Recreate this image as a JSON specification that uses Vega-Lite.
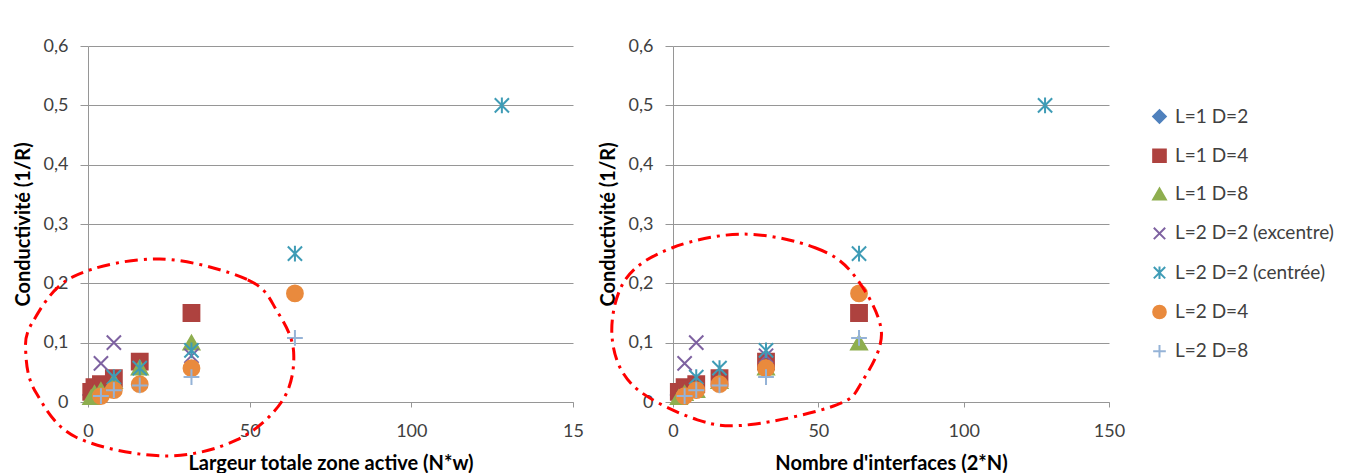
{
  "$schema": "https://vega.github.io/schema/vega-lite/v6.json",
  "background": "white",
  "padding": {"left": 13, "top": 37, "right": 5, "bottom": 0},
  "bounds": "flush",
  "spacing": 100,
  "datasets": {
    "pts": [
      {"s": "L=1 D=2", "nw": 1, "n2": 2, "y": 0.012},
      {"s": "L=1 D=2", "nw": 2, "n2": 4, "y": 0.018},
      {"s": "L=1 D=4", "nw": 1, "n2": 2, "y": 0.017},
      {"s": "L=1 D=4", "nw": 2, "n2": 4, "y": 0.025},
      {"s": "L=1 D=4", "nw": 4, "n2": 8, "y": 0.03},
      {"s": "L=1 D=4", "nw": 8, "n2": 16, "y": 0.04},
      {"s": "L=1 D=4", "nw": 16, "n2": 32, "y": 0.068},
      {"s": "L=1 D=4", "nw": 32, "n2": 64, "y": 0.15},
      {"s": "L=1 D=8", "nw": 1, "n2": 2, "y": 0.008},
      {"s": "L=1 D=8", "nw": 2, "n2": 4, "y": 0.015},
      {"s": "L=1 D=8", "nw": 4, "n2": 8, "y": 0.02},
      {"s": "L=1 D=8", "nw": 8, "n2": 16, "y": 0.035},
      {"s": "L=1 D=8", "nw": 16, "n2": 32, "y": 0.058},
      {"s": "L=1 D=8", "nw": 32, "n2": 64, "y": 0.1},
      {"s": "L=2 D=2 (excentre)", "nw": 4, "n2": 4, "y": 0.065},
      {"s": "L=2 D=2 (excentre)", "nw": 8, "n2": 8, "y": 0.1},
      {"s": "L=2 D=2 (excentre)", "nw": 32, "n2": 32, "y": 0.078},
      {"s": "L=2 D=2 (centrée)", "nw": 8, "n2": 8, "y": 0.042},
      {"s": "L=2 D=2 (centrée)", "nw": 16, "n2": 16, "y": 0.057},
      {"s": "L=2 D=2 (centrée)", "nw": 32, "n2": 32, "y": 0.087},
      {"s": "L=2 D=2 (centrée)", "nw": 64, "n2": 64, "y": 0.25},
      {"s": "L=2 D=2 (centrée)", "nw": 128, "n2": 128, "y": 0.5},
      {"s": "L=2 D=4", "nw": 4, "n2": 4, "y": 0.01},
      {"s": "L=2 D=4", "nw": 8, "n2": 8, "y": 0.02},
      {"s": "L=2 D=4", "nw": 16, "n2": 16, "y": 0.03},
      {"s": "L=2 D=4", "nw": 32, "n2": 32, "y": 0.057},
      {"s": "L=2 D=4", "nw": 64, "n2": 64, "y": 0.183},
      {"s": "L=2 D=8", "nw": 4, "n2": 4, "y": 0.01},
      {"s": "L=2 D=8", "nw": 8, "n2": 8, "y": 0.02},
      {"s": "L=2 D=8", "nw": 16, "n2": 16, "y": 0.028},
      {"s": "L=2 D=8", "nw": 32, "n2": 32, "y": 0.042},
      {"s": "L=2 D=8", "nw": 64, "n2": 64, "y": 0.108}
    ],
    "ell": [
      {"p": "L", "i": 1, "x": 22.2, "y": 0.241},
      {"p": "L", "i": 2, "x": 49.4, "y": 0.206},
      {"p": "L", "i": 3, "x": 58.6, "y": 0.152},
      {"p": "L", "i": 4, "x": 63.6, "y": 0.084},
      {"p": "L", "i": 5, "x": 60.2, "y": 0.003},
      {"p": "L", "i": 6, "x": 46.0, "y": -0.064},
      {"p": "L", "i": 7, "x": 23.4, "y": -0.091},
      {"p": "L", "i": 8, "x": -3.8, "y": -0.059},
      {"p": "L", "i": 9, "x": -16.0, "y": 0.015},
      {"p": "L", "i": 10, "x": -19.2, "y": 0.079},
      {"p": "L", "i": 11, "x": -17.3, "y": 0.133},
      {"p": "L", "i": 12, "x": -4.7, "y": 0.211},
      {"p": "R", "i": 1, "x": 24.4, "y": 0.283},
      {"p": "R", "i": 2, "x": 48.9, "y": 0.26},
      {"p": "R", "i": 3, "x": 62.4, "y": 0.213},
      {"p": "R", "i": 4, "x": 71.7, "y": 0.118},
      {"p": "R", "i": 5, "x": 65.0, "y": 0.034},
      {"p": "R", "i": 6, "x": 56.3, "y": -0.005},
      {"p": "R", "i": 7, "x": 26.8, "y": -0.038},
      {"p": "R", "i": 8, "x": 8.4, "y": -0.03},
      {"p": "R", "i": 9, "x": -13.8, "y": 0.028},
      {"p": "R", "i": 10, "x": -21.0, "y": 0.112},
      {"p": "R", "i": 11, "x": -16.3, "y": 0.207},
      {"p": "R", "i": 12, "x": -0.2, "y": 0.26}
    ]
  },
  "config": {
    "font": "Lato",
    "view": {"stroke": null},
    "axis": {
      "labelFlush": false,
      "labelOverlap": false,
      "labelFont": "Lato",
      "labelFontSize": 18,
      "labelColor": "#404040",
      "titleFont": "Lato",
      "titleFontSize": 20,
      "titleFontWeight": "bold",
      "titleColor": "#000000",
      "domainColor": "#969696",
      "tickColor": "#969696",
      "gridColor": "#969696",
      "gridWidth": 1
    },
    "axisY": {"tickSize": 8, "labelPadding": 12, "titlePadding": 10, "grid": true},
    "axisX": {"tickSize": 5, "labelPadding": 15, "titlePadding": 13, "grid": false},
    "legend": {
      "orient": "none",
      "legendX": 1062,
      "legendY": 61,
      "padding": 0,
      "labelFont": "Lato",
      "labelFontSize": 19,
      "labelColor": "#404040",
      "symbolSize": 160,
      "symbolStrokeWidth": 2,
      "rowPadding": 18.3,
      "labelOffset": 6
    }
  },
  "hconcat": [
    {
      "width": 485,
      "height": 356,
      "layer": [
        {
          "data": {"name": "pts"},
          "mark": {"type": "point", "filled": true, "size": 250, "strokeWidth": 2, "opacity": 1},
          "encoding": {
            "x": {"field": "nw", "type": "quantitative", "title": "Largeur totale zone active (N*w)",
                  "scale": {"domain": [0, 150], "nice": false},
                  "axis": {"values": [0, 50, 100, 150], "labelExpr": "datum.value == 150 ? '15' : format(datum.value, 'd')"}},
            "y": {"field": "y", "type": "quantitative", "title": "Conductivité (1/R)",
                  "scale": {"domain": [0, 0.6], "nice": false},
                  "axis": {"values": [0, 0.1, 0.2, 0.3, 0.4, 0.5, 0.6], "labelExpr": "datum.value == 0 ? '0' : replace(format(datum.value, '.1f'), '.', ',')"}},
            "fill": {"field": "s", "type": "nominal", "title": null,
                     "scale": {"domain": ["L=1 D=2", "L=1 D=4", "L=1 D=8", "L=2 D=2 (excentre)", "L=2 D=2 (centrée)", "L=2 D=4", "L=2 D=8"],
                               "range": ["#4F81BD", "#AE423F", "#8EAE4F", "#7E62A1", "#3F9CB6", "#E98A3D", "#95B3D7"]}},
            "stroke": {"field": "s", "type": "nominal", "title": null,
                     "scale": {"domain": ["L=1 D=2", "L=1 D=4", "L=1 D=8", "L=2 D=2 (excentre)", "L=2 D=2 (centrée)", "L=2 D=4", "L=2 D=8"],
                               "range": ["#4F81BD", "#AE423F", "#8EAE4F", "#7E62A1", "#3F9CB6", "#E98A3D", "#95B3D7"]}},
            "shape": {"field": "s", "type": "nominal", "title": null,
                      "scale": {"domain": ["L=1 D=2", "L=1 D=4", "L=1 D=8", "L=2 D=2 (excentre)", "L=2 D=2 (centrée)", "L=2 D=4", "L=2 D=8"],
                                "range": ["diamond", "square", "triangle-up", "M-0.9,-0.9L0.9,0.9M-0.9,0.9L0.9,-0.9", "M-0.9,-0.9L0.9,0.9M-0.9,0.9L0.9,-0.9M0,-1L0,1", "circle", "M-1,0L1,0M0,-1L0,1"]}}
          }
        },
        {
          "data": {"name": "ell"},
          "transform": [{"filter": "datum.p == 'L'"}],
          "mark": {"type": "line", "interpolate": "cardinal-closed", "clip": false, "color": "#FF0000", "strokeWidth": 3, "strokeDash": [13, 6, 3, 6]},
          "encoding": {
            "x": {"field": "x", "type": "quantitative", "title": "Largeur totale zone active (N*w)", "scale": {"domain": [0, 150], "nice": false}},
            "y": {"field": "y", "type": "quantitative", "title": "Conductivité (1/R)", "scale": {"domain": [0, 0.6], "nice": false}},
            "order": {"field": "i", "type": "quantitative"}
          }
        }
      ]
    },
    {
      "width": 436,
      "height": 356,
      "layer": [
        {
          "data": {"name": "pts"},
          "mark": {"type": "point", "filled": true, "size": 250, "strokeWidth": 2, "opacity": 1},
          "encoding": {
            "x": {"field": "n2", "type": "quantitative", "title": "Nombre d'interfaces (2*N)",
                  "scale": {"domain": [0, 150], "nice": false},
                  "axis": {"values": [0, 50, 100, 150], "format": "d"}},
            "y": {"field": "y", "type": "quantitative", "title": "Conductivité (1/R)",
                  "scale": {"domain": [0, 0.6], "nice": false},
                  "axis": {"values": [0, 0.1, 0.2, 0.3, 0.4, 0.5, 0.6], "labelExpr": "datum.value == 0 ? '0' : replace(format(datum.value, '.1f'), '.', ',')"}},
            "fill": {"field": "s", "type": "nominal", "title": null,
                     "scale": {"domain": ["L=1 D=2", "L=1 D=4", "L=1 D=8", "L=2 D=2 (excentre)", "L=2 D=2 (centrée)", "L=2 D=4", "L=2 D=8"],
                               "range": ["#4F81BD", "#AE423F", "#8EAE4F", "#7E62A1", "#3F9CB6", "#E98A3D", "#95B3D7"]}},
            "stroke": {"field": "s", "type": "nominal", "title": null,
                     "scale": {"domain": ["L=1 D=2", "L=1 D=4", "L=1 D=8", "L=2 D=2 (excentre)", "L=2 D=2 (centrée)", "L=2 D=4", "L=2 D=8"],
                               "range": ["#4F81BD", "#AE423F", "#8EAE4F", "#7E62A1", "#3F9CB6", "#E98A3D", "#95B3D7"]}},
            "shape": {"field": "s", "type": "nominal", "title": null,
                      "scale": {"domain": ["L=1 D=2", "L=1 D=4", "L=1 D=8", "L=2 D=2 (excentre)", "L=2 D=2 (centrée)", "L=2 D=4", "L=2 D=8"],
                                "range": ["diamond", "square", "triangle-up", "M-0.9,-0.9L0.9,0.9M-0.9,0.9L0.9,-0.9", "M-0.9,-0.9L0.9,0.9M-0.9,0.9L0.9,-0.9M0,-1L0,1", "circle", "M-1,0L1,0M0,-1L0,1"]}}
          }
        },
        {
          "data": {"name": "ell"},
          "transform": [{"filter": "datum.p == 'R'"}],
          "mark": {"type": "line", "interpolate": "cardinal-closed", "clip": false, "color": "#FF0000", "strokeWidth": 3, "strokeDash": [13, 6, 3, 6]},
          "encoding": {
            "x": {"field": "x", "type": "quantitative", "title": "Nombre d'interfaces (2*N)", "scale": {"domain": [0, 150], "nice": false}},
            "y": {"field": "y", "type": "quantitative", "title": "Conductivité (1/R)", "scale": {"domain": [0, 0.6], "nice": false}},
            "order": {"field": "i", "type": "quantitative"}
          }
        }
      ]
    }
  ]
}
